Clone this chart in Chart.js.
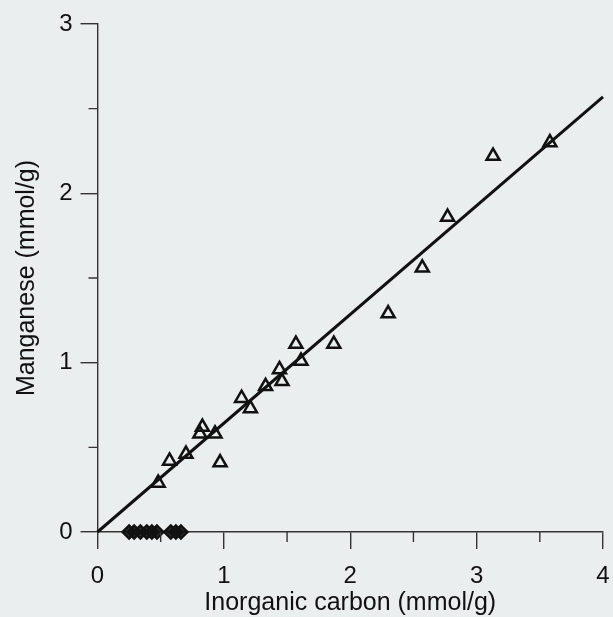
<!DOCTYPE html>
<html>
<head>
<meta charset="utf-8">
<script src="https://cdn.jsdelivr.net/npm/chart.js@4/dist/chart.umd.min.js"></script>
<style>
  html, body { margin: 0; padding: 0; background: #ebeeee; }
  #wrap { width: 613px; height: 617px; }
</style>
</head>
<body>
<div id="wrap"><canvas id="chart" width="613" height="617"></canvas></div>
<script>
// Manganese vs inorganic carbon
var triX = [0.48, 0.57, 0.70, 0.83, 0.81, 0.93, 0.97, 1.14, 1.21, 1.33, 1.44, 1.46, 1.57, 1.61, 1.87, 2.30, 2.57, 2.77, 3.13, 3.58];
var triY = [0.29, 0.42, 0.46, 0.62, 0.58, 0.58, 0.41, 0.79, 0.73, 0.86, 0.96, 0.89, 1.11, 1.01, 1.11, 1.29, 1.56, 1.86, 2.22, 2.30];
var diaX = [0.25, 0.29, 0.34, 0.39, 0.43, 0.47, 0.58, 0.62, 0.66];
var diaY = [0, 0, 0, 0, 0, 0, 0, 0, 0];
var fitX = [0, 4];
var fitY = [0, 2.57];
var xTicks = [0, 1, 2, 3, 4];
var yTicks = [0, 1, 2, 3];
var xMinor = [0.5, 1.5, 2.5, 3.5];
var yMinor = [0.5, 1.5, 2.5];

function pairs(xs, ys) {
    return xs.map(function(x, i) { return { x: x, y: ys[i] }; });
}

var FONT = "'Liberation Sans', Arial, sans-serif";
var AXIS = '#333';

// short half-unit ticks, Chart.js only has one tick length per axis
var minorTicks = {
    id: 'minorTicks',
    afterDatasetsDraw: function(chart) {
        var ctx = chart.ctx, xs = chart.scales.x, ys = chart.scales.y;
        ctx.save();
        ctx.strokeStyle = AXIS;
        ctx.lineWidth = 1.4;
        ctx.beginPath();
        xMinor.forEach(function(v) {
            var px = xs.getPixelForValue(v);
            ctx.moveTo(px, xs.top);
            ctx.lineTo(px, xs.top + 10);
        });
        yMinor.forEach(function(v) {
            var py = ys.getPixelForValue(v);
            ctx.moveTo(ys.right, py);
            ctx.lineTo(ys.right - 9, py);
        });
        ctx.stroke();
        ctx.restore();
    }
};

new Chart(document.getElementById('chart'), {
    type: 'scatter',
    data: {
        datasets: [{
            type: 'line',
            data: pairs(fitX, fitY),
            borderColor: '#111',
            borderWidth: 3,
            pointRadius: 0,
            fill: false,
            clip: false
        }, {
            data: pairs(triX, triY),
            pointStyle: 'triangle',
            pointRadius: 7.5,
            pointBorderWidth: 2.5,
            pointBorderColor: '#111',
            pointBackgroundColor: 'rgba(0,0,0,0)',
            clip: false
        }, {
            data: pairs(diaX, diaY),
            pointStyle: 'rectRot',
            pointRadius: 6.5,
            pointBorderWidth: 2.5,
            pointBorderColor: '#111',
            pointBackgroundColor: 'rgba(17,17,17,0.85)',
            clip: false
        }]
    },
    options: {
        responsive: false,
        animation: false,
        events: [],
        layout: { padding: { left: 0, right: 7, top: 24, bottom: 0 } },
        plugins: { legend: { display: false }, tooltip: { enabled: false } },
        scales: {
            x: {
                type: 'linear',
                min: 0, max: 4,
                afterFit: function(s) { s.height = 85; s.paddingLeft = 0; s.paddingRight = 0; },
                afterBuildTicks: function(s) { s.ticks = xTicks.map(function(v) { return { value: v }; }); },
                border: { display: true, color: AXIS, width: 1.4 },
                grid: { drawOnChartArea: false, drawTicks: true, tickLength: 17, color: AXIS, lineWidth: 1.4 },
                ticks: { color: '#111', padding: 13, maxRotation: 0, font: { family: FONT, size: 24 } },
                title: { display: true, text: 'Inorganic carbon (mmol/g)', color: '#111',
                         padding: { top: 0, bottom: -1 }, font: { family: FONT, size: 25 } }
            },
            y: {
                type: 'linear',
                min: 0, max: 3,
                afterFit: function(s) { s.width = 97.5; s.paddingTop = 0; s.paddingBottom = 0; },
                afterBuildTicks: function(s) { s.ticks = yTicks.map(function(v) { return { value: v }; }); },
                border: { display: true, color: AXIS, width: 1.4 },
                grid: { drawOnChartArea: false, drawTicks: true, tickLength: 17, color: AXIS, lineWidth: 1.4 },
                ticks: { color: '#111', padding: 8, font: { family: FONT, size: 24 } },
                title: { display: true, text: 'Manganese (mmol/g)', color: '#111',
                         padding: { top: 12, bottom: 0 }, font: { family: FONT, size: 25 } }
            }
        }
    },
    plugins: [minorTicks]
});
</script>
</body>
</html>
